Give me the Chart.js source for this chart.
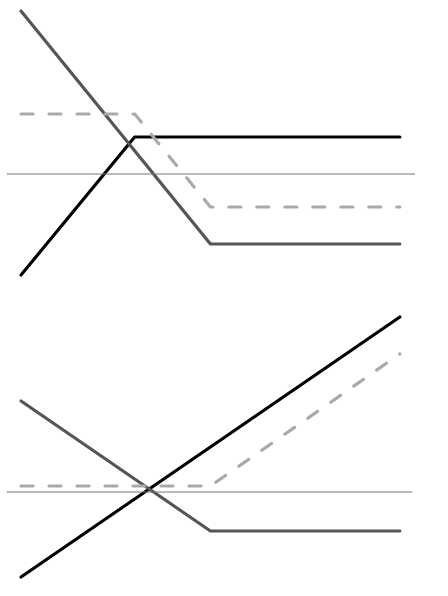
<!DOCTYPE html>
<html>
<head>
<meta charset="utf-8">
<script src="https://cdn.jsdelivr.net/npm/chart.js@4.4.1/dist/chart.umd.min.js"></script>
<style>
html,body{margin:0;padding:0;background:#fff;}
canvas{display:block;}
</style>
</head>
<body>
<canvas id="top" width="448" height="296"></canvas>
<canvas id="bottom" width="448" height="300"></canvas>
<script>
// x positions (underlying) where each series is read
const xTop = [0, 30, 50, 100];
const xBottom = [0, 50, 100];

// Top panel series
const topGray   = [163, null, -70, -70];
const topDashed = [60, 60, -33, -33];
const topBlack  = [-101, 37, null, 37];

// Bottom panel series
const botBlack  = [-85, null, 175];
const botDashed = [6, 6, 138];
const botGray   = [91, -39, -39];

// zero reference line extents
const zeroTopX = [-3.7, 104];
const zeroBotX = [-3.7, 103.2];

function pts(xs, ys){
  const out = [];
  xs.forEach((x,i)=>{ if(ys[i]!==null) out.push({x:x, y:ys[i]}); });
  return out;
}

function ds(data, color, width, dash){
  return {data, borderColor: color, borderWidth: width, borderDash: dash || [],
    borderCapStyle: 'round', borderJoinStyle: 'round',
    pointRadius: 0, tension: 0, fill: false};
}

function make(id, datasets, ymin, ymax){
  new Chart(document.getElementById(id), {
    type: 'line',
    data: {datasets},
    options: {
      responsive: false, animation: false, devicePixelRatio: 1,
      layout: {padding: {left: 7, right: 33, top: 0, bottom: 0}},
      plugins: {legend: {display: false}, tooltip: {enabled: false}},
      scales: {
        x: {type: 'linear', min: -3.7, max: 104, display: false},
        y: {type: 'linear', min: ymin, max: ymax, display: false}
      }
    }
  });
}

make('top', [
  ds(zeroTopX.map(x=>({x, y:0})), '#777', 1),
  ds(pts(xTop, topDashed), '#aaaaaa', 3.2, [12, 16]),
  ds(pts(xTop, topGray), '#555555', 3.2),
  ds(pts(xTop, topBlack), '#000000', 3.2)
], -122, 174);

make('bottom', [
  ds(zeroBotX.map(x=>({x, y:0})), '#777', 1),
  ds(pts(xBottom, botDashed), '#aaaaaa', 3.2, [12, 16]),
  ds(pts(xBottom, botGray), '#555555', 3.2),
  ds(pts(xBottom, botBlack), '#000000', 3.2)
], -104, 196);
</script>
</body>
</html>
